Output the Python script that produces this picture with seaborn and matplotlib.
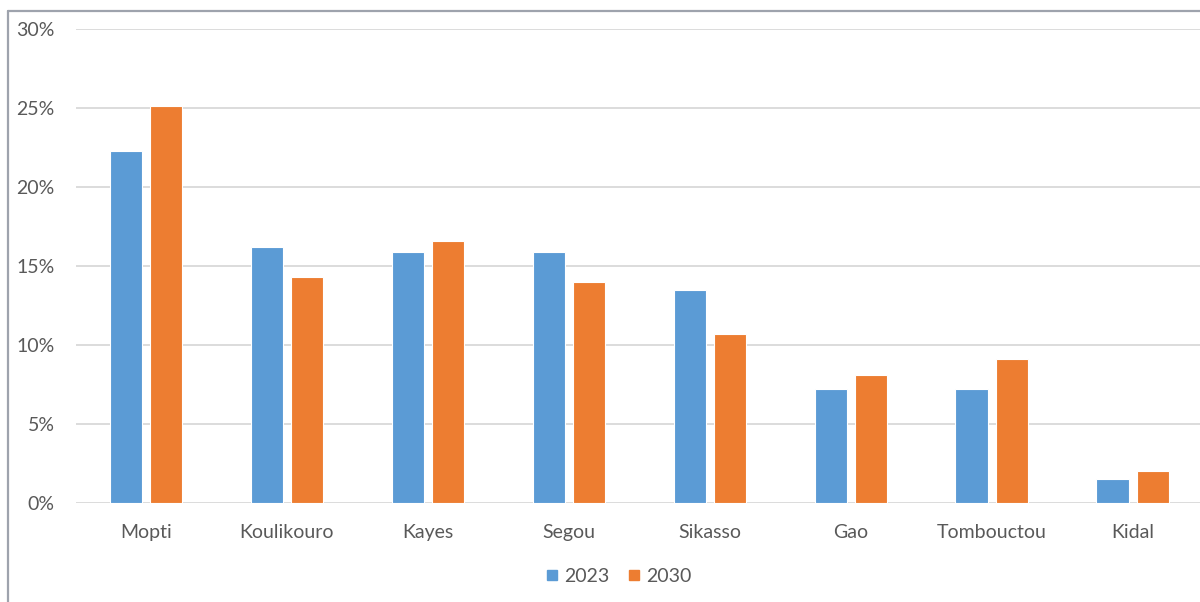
import matplotlib
matplotlib.use("Agg")
import matplotlib.pyplot as plt
from matplotlib.lines import Line2D
from matplotlib.ticker import FuncFormatter, MultipleLocator
import pandas as pd
import seaborn as sns

regions = ["Mopti", "Koulikouro", "Kayes", "Segou", "Sikasso", "Gao", "Tombouctou", "Kidal"]
share_2023 = [22.3, 16.2, 15.9, 15.9, 13.5, 7.2, 7.2, 1.5]
share_2030 = [25.1, 14.3, 16.6, 14.0, 10.7, 8.1, 9.1, 2.0]
years = ["2023", "2030"]
colors = {"2023": "#5B9BD5", "2030": "#ED7D31"}

df = pd.DataFrame({
    "region": regions * 2,
    "year": [years[0]] * len(regions) + [years[1]] * len(regions),
    "share": share_2023 + share_2030,
})

sns.set_theme(style="white")
plt.rcParams["font.family"] = ["Lato", "DejaVu Sans"]
text_color = "#595959"

fig = plt.figure(figsize=(12, 6.02), dpi=100)
ax = fig.add_axes([75.6 / 1200, 1 - 503 / 602, 1127.4 / 1200, 474 / 602])

sns.barplot(data=df, x="region", y="share", hue="year", order=regions,
            hue_order=years, palette=colors, saturation=1, width=0.57, gap=0.2,
            edgecolor="white", linewidth=0.8, ax=ax, legend=False, zorder=3)

ax.set_ylim(0, 30)
ax.set_xlim(-0.5, len(regions) - 0.5)
ax.yaxis.set_major_locator(MultipleLocator(5))
ax.yaxis.set_major_formatter(FuncFormatter(lambda v, _: f"{v:.0f}%"))
ax.grid(axis="y", color="#d9d9d9", linewidth=1.3, zorder=0)
ax.set_axisbelow(True)
for s in ax.spines.values():
    s.set_visible(False)
ax.set_xlabel("")
ax.set_ylabel("")
ax.tick_params(axis="both", length=0, labelsize=14, colors=text_color)
ax.tick_params(axis="y", pad=15)
ax.tick_params(axis="x", pad=15)

handles = [Line2D([0], [0], marker="s", linestyle="none", markersize=7.5,
                  markerfacecolor=colors[y], markeredgecolor=colors[y]) for y in years]
leg = fig.legend(handles, years, loc="center", bbox_to_anchor=(0.514, 1 - 576 / 602),
                 ncol=2, frameon=False, fontsize=14, handletextpad=0.1,
                 columnspacing=0.8, handlelength=1.0)
for t in leg.get_texts():
    t.set_color(text_color)

# outer frame on the left and top edges
border = "#9ea3ad"
fig.add_artist(Line2D([8 / 1200, 8 / 1200], [0, 1 - 11 / 602], color=border, lw=1.6,
                      transform=fig.transFigure))
fig.add_artist(Line2D([8 / 1200, 1], [1 - 11 / 602, 1 - 11 / 602], color=border, lw=1.6,
                      transform=fig.transFigure))

fig.savefig("out.png", dpi=100)
